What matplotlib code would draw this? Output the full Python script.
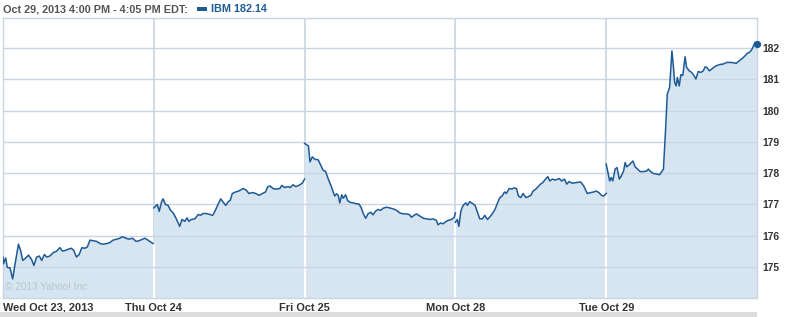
import matplotlib
matplotlib.use("Agg")
import matplotlib.pyplot as plt
from matplotlib.patches import Rectangle

# ---------------- data (minutes after 9:30 open, price) ----------------
day_labels = ["Wed Oct 23, 2013", "Thu Oct 24", "Fri Oct 25", "Mon Oct 28", "Tue Oct 29"]
y_ticks = [175, 176, 177, 178, 179, 180, 181, 182]

d1_time = [0, 1, 7, 11, 18, 25, 31, 40, 46, 51, 59, 66, 74, 80, 87, 94, 100, 107, 113, 121,
           130, 139, 147, 154, 161, 169, 177, 183, 190, 197, 204, 212, 218, 225, 233, 242, 251,
           259, 268, 276, 285, 294, 302, 309, 318, 326, 335, 344, 352, 361, 367, 375, 388]
d1_price = [175.32, 175.10, 175.29, 174.99, 174.97, 174.62, 175.08, 175.73, 175.51, 175.21,
            175.29, 175.38, 175.24, 175.05, 175.32, 175.35, 175.21, 175.40, 175.32, 175.35,
            175.46, 175.51, 175.62, 175.51, 175.53, 175.57, 175.60, 175.53, 175.32, 175.40,
            175.62, 175.60, 175.64, 175.86, 175.84, 175.82, 175.75, 175.73, 175.75, 175.78,
            175.86, 175.89, 175.92, 175.97, 175.92, 175.89, 175.92, 175.82, 175.84, 175.89,
            175.92, 175.86, 175.75]

d2_time = [0, 9, 14, 20, 24, 30, 37, 43, 50, 57, 63, 67, 73, 80, 86, 91, 97, 106, 115, 121,
           127, 136, 145, 152, 158, 166, 173, 179, 186, 192, 198, 203, 212, 220, 231, 239, 246,
           255, 264, 272, 281, 289, 295, 301, 308, 317, 326, 331, 338, 347, 353, 360, 367, 375,
           384, 390]
d2_price = [176.89, 177.00, 176.78, 177.08, 177.18, 177.00, 176.97, 176.82, 176.73, 176.57,
            176.41, 176.30, 176.52, 176.46, 176.57, 176.46, 176.52, 176.54, 176.68, 176.65,
            176.71, 176.71, 176.68, 176.65, 176.78, 177.00, 177.18, 177.08, 176.97, 177.08,
            177.14, 177.35, 177.40, 177.43, 177.51, 177.46, 177.35, 177.38, 177.35, 177.29,
            177.35, 177.40, 177.57, 177.59, 177.51, 177.49, 177.51, 177.61, 177.54, 177.57,
            177.54, 177.63, 177.57, 177.61, 177.68, 177.81]

d3_time = [0, 10, 14, 20, 27, 35, 42, 48, 54, 61, 68, 74, 78, 83, 87, 91, 96, 100, 106, 111,
           117, 126, 134, 140, 146, 152, 158, 164, 171, 177, 183, 190, 197, 203, 212, 220, 229,
           238, 246, 255, 263, 272, 276, 283, 289, 298, 307, 315, 324, 332, 341, 345, 352, 358,
           364, 371, 380, 387, 390]
d3_price = [178.95, 178.87, 178.36, 178.52, 178.44, 178.43, 178.25, 178.09, 178.06, 177.82,
            177.61, 177.40, 177.27, 177.34, 177.29, 177.05, 177.31, 177.20, 177.31, 177.13,
            177.07, 177.05, 177.02, 177.02, 176.91, 176.70, 176.56, 176.70, 176.75, 176.67,
            176.78, 176.84, 176.81, 176.88, 176.91, 176.89, 176.86, 176.81, 176.73, 176.70,
            176.70, 176.67, 176.59, 176.65, 176.70, 176.63, 176.56, 176.54, 176.52, 176.54,
            176.49, 176.35, 176.41, 176.38, 176.44, 176.49, 176.52, 176.59, 176.73]

d4_time = [0, 5, 9, 14, 18, 22, 27, 31, 37, 44, 51, 57, 63, 70, 76, 83, 89, 96, 103, 109,
           115, 121, 127, 132, 139, 146, 152, 158, 163, 169, 175, 182, 189, 195, 201, 208, 214,
           220, 226, 233, 239, 244, 251, 259, 268, 275, 282, 288, 294, 302, 313, 324, 332, 341,
           350, 358, 364, 371, 378, 384, 390]
d4_price = [176.43, 176.52, 176.30, 176.78, 176.92, 177.00, 177.05, 176.97, 177.09, 177.03,
            176.97, 176.75, 176.54, 176.54, 176.65, 176.52, 176.60, 176.71, 176.86, 177.05,
            177.22, 177.27, 177.40, 177.35, 177.51, 177.49, 177.53, 177.51, 177.27, 177.22,
            177.35, 177.22, 177.25, 177.29, 177.43, 177.49, 177.57, 177.65, 177.70, 177.81,
            177.89, 177.75, 177.81, 177.78, 177.83, 177.75, 177.81, 177.65, 177.73, 177.68,
            177.70, 177.72, 177.59, 177.35, 177.38, 177.40, 177.43, 177.38, 177.29, 177.27,
            177.35]

d5_time = [0, 9, 13, 17, 23, 28, 34, 39, 45, 49, 53, 60, 69, 75, 81, 88, 96, 105, 109, 115,
           122, 131, 138, 142, 148, 153, 158, 164, 170, 174, 177, 181, 184, 189, 193, 198, 204,
           208, 215, 221, 227, 232, 238, 245, 251, 256, 260, 267, 276, 284, 293, 303, 312, 320,
           329, 336, 344, 353, 359, 365, 370, 376, 381, 385, 390]
d5_price = [178.29, 177.75, 177.86, 177.75, 178.13, 178.18, 177.81, 177.91, 178.07, 178.34,
            178.20, 178.27, 178.39, 178.20, 178.13, 178.05, 178.05, 178.07, 178.13, 178.05,
            177.99, 177.97, 177.95, 178.02, 178.13, 179.25, 180.53, 180.74, 181.91, 181.38,
            180.90, 180.79, 181.06, 180.79, 181.15, 181.12, 181.72, 181.38, 181.27, 181.22,
            181.12, 181.01, 181.25, 181.22, 181.27, 181.40, 181.38, 181.27, 181.36, 181.43,
            181.47, 181.49, 181.54, 181.54, 181.53, 181.51, 181.59, 181.68, 181.75, 181.83,
            181.86, 181.94, 182.07, 182.18, 182.14]

days = [(d1_time, d1_price), (d2_time, d2_price), (d3_time, d3_price),
        (d4_time, d4_price), (d5_time, d5_price)]
session_minutes = 390

header_text = "Oct 29, 2013 4:00 PM - 4:05 PM EDT:"
legend_text = "IBM 182.14"
copyright_text = "\u00a9 2013 Yahoo! Inc."

# ---------------- styling ----------------
LINE = "#1d5a96"
FILL = "#d6e5f0"
GRID = "#c9d6e1"
TXT = "#333333"
FONT = "Liberation Sans"

W, H = 799, 317
fig = plt.figure(figsize=(W / 100, H / 100), dpi=100)
fig.patch.set_facecolor("white")
ax = fig.add_axes([3 / W, 19 / H, 754 / W, 280 / H])

ymin, ymax = 174.01, 182.96
ax.set_xlim(0, len(days))
ax.set_ylim(ymin, ymax)

# vertical day separators (grey)
for i in range(1, len(days)):
    ax.axvline(i, color=GRID, lw=1.2, zorder=0.5)

xs_all = []
for i, (t, p) in enumerate(days):
    x = [i + m / session_minutes for m in t]
    xs_all.append(x)
    ax.fill_between(x, p, ymin, color=FILL, lw=0, zorder=1)

# white gaps in fill at day boundaries
for i in range(1, len(days)):
    top = min(days[i - 1][1][-1], days[i][1][0])
    ax.vlines(i, ymin, top, color="white", lw=1.6, zorder=1.5)

for v in y_ticks:
    ax.axhline(v, color=GRID, lw=1.0, zorder=2)

for x, (t, p) in zip(xs_all, days):
    ax.plot(x, p, color=LINE, lw=1.1, zorder=3, solid_joinstyle="round")

# end marker
ax.plot([xs_all[-1][-1]], [days[-1][1][-1]], marker="o", ms=4.2, color=LINE,
        zorder=4, clip_on=False)

for s in ax.spines.values():
    s.set_color(GRID)
    s.set_linewidth(1.0)

ax.yaxis.tick_right()
ax.set_yticks(y_ticks)
ax.set_yticklabels([str(v) for v in y_ticks], fontsize=7.4, fontweight="bold",
                   color=TXT, fontfamily=FONT)
ax.tick_params(axis="y", length=0, pad=4)

ax.set_xticks(range(len(days)))
ax.set_xticklabels(day_labels, fontsize=7.9, fontweight="bold", color=TXT, fontfamily=FONT)
ax.tick_params(axis="x", length=0, pad=3.5)
ax.get_xticklabels()[0].set_horizontalalignment("left")

ax.text(0.003, 0.04, copyright_text, transform=ax.transAxes, fontsize=7.2,
        color="#b9c6cf", fontfamily=FONT, ha="left", va="center", zorder=5)

# header
fig.text(3 / W, 1 - 9 / H, header_text, fontsize=7.8, fontweight="bold", color="#555555",
         fontfamily=FONT, ha="left", va="center")
fig.patches.append(Rectangle((197 / W, 1 - 11 / H), 10 / W, 4 / H, transform=fig.transFigure,
                             facecolor=LINE, edgecolor="none"))
fig.text(211 / W, 1 - 9 / H, legend_text, fontsize=7.8, fontweight="bold", color=LINE,
         fontfamily=FONT, ha="left", va="center")

# bottom grey band
fig.patches.append(Rectangle((0, 0), 757 / W, 5 / H, transform=fig.transFigure,
                             facecolor="#dcdcdc", edgecolor="none"))

fig.savefig("out.png", dpi=100)
